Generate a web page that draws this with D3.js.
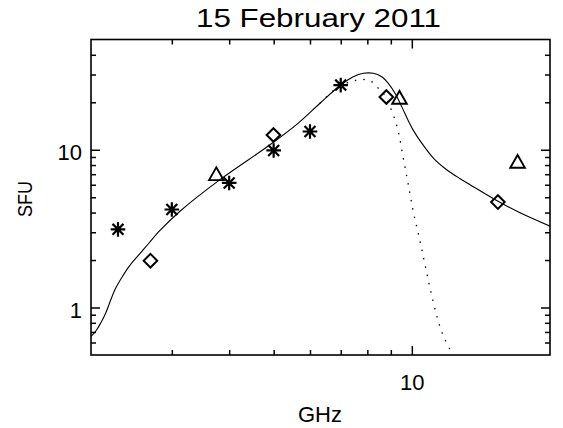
<!DOCTYPE html>
<html><head><meta charset="utf-8">
<script src="https://cdn.jsdelivr.net/npm/d3@7"></script>
<style>
body{margin:0;background:#fff}
svg{display:block}
text{font-family:"Liberation Sans",Arial,Helvetica,sans-serif;fill:#000}
</style>
</head><body><script>
// ---------- data ----------
const title = "15 February 2011";
const xLabel = "GHz";
const yLabel = "SFU";
const xDomain = [2, 20];
const yDomain = [0.5, 50];
const xMajorTicks = [10];
const xMinorTicks = [3, 4, 5, 6, 7, 8, 9];
const yMajorTicks = [1, 10];
const yMinorTicks = [0.6, 0.7, 0.8, 0.9, 2, 3, 4, 5, 6, 7, 8, 9, 20, 30, 40];

// observed fluxes
const asteriskFreq = [2.29, 3.0, 4.0, 5.0, 6.0, 7.0];
const asteriskFlux = [3.13, 4.18, 6.16, 9.9, 13.05, 25.7];
const diamondFreq = [2.695, 4.995, 8.8, 15.4];
const diamondFlux = [1.98, 12.4, 21.6, 4.66];
const triangleFreq = [3.75, 9.4, 17.0];
const triangleFlux = [7.05, 21.5, 8.44];

// fitted spectrum (solid)
const fitFreq = [2.000, 2.051, 2.103, 2.156, 2.211, 2.267, 2.345, 2.424, 2.548, 2.679, 2.817, 3.125, 3.820, 4.909, 5.658, 6.308, 6.998, 7.454, 7.840, 8.243, 8.598, 8.888, 9.192, 9.506, 9.825, 10.06, 10.51, 11.14, 11.91, 12.74, 13.39, 15.41, 17.21, 20.0];
const fitFlux = [0.656, 0.712, 0.804, 0.930, 1.128, 1.337, 1.584, 1.831, 2.171, 2.574, 3.047, 4.076, 6.465, 10.75, 14.75, 19.72, 25.74, 29.04, 30.52, 30.52, 29.04, 26.38, 22.81, 18.77, 15.25, 13.37, 11.02, 8.862, 7.475, 6.558, 6.009, 4.714, 3.982, 3.277];

// model component (dotted)
const modelFreq = [6.308, 6.998, 7.396, 7.711, 7.977, 8.243, 8.453, 8.670, 8.888, 9.112, 9.343, 9.580, 9.825, 10.07, 10.38, 10.68, 10.99, 11.36, 11.67, 12.15];
const modelFlux = [19.72, 25.74, 27.01, 27.97, 27.69, 26.61, 24.54, 22.81, 19.72, 16.64, 13.05, 8.862, 6.009, 4.076, 2.768, 1.877, 1.273, 0.865, 0.678, 0.532];

// ---------- layout ----------
const W = 563, H = 428;
const L = 91, R = 550, T = 39.5, B = 355;

const svg = d3.select("body").append("svg").attr("width", W).attr("height", H);

const x = d3.scaleLog().domain(xDomain).range([L, R]);
const y = d3.scaleLog().domain(yDomain).range([B, T]);

svg.append("defs").append("clipPath").attr("id", "clip")
  .append("rect").attr("x", L).attr("y", T).attr("width", R - L).attr("height", B - T);

// ---------- axes ----------
function addAxis(gen, scale, vals, size, tx, ty, labels) {
  const a = gen(scale).tickValues(vals).tickSizeInner(-size).tickSizeOuter(0)
    .tickPadding(12).tickFormat(labels ? d3.format("") : () => "");
  const g = svg.append("g").attr("transform", `translate(${tx},${ty})`).call(a);
  g.select(".domain").remove();
  g.selectAll(".tick line").attr("stroke", "#000").attr("stroke-width", 1.5);
  g.selectAll(".tick text").attr("font-size", 22).attr("fill", "#000")
    .attr("font-family", '"Liberation Sans",Arial,sans-serif');
  return g;
}
// bottom
addAxis(d3.axisBottom, x, xMinorTicks, 5, 0, B, false);
const gxb = addAxis(d3.axisBottom, x, xMajorTicks, 9, 0, B, true);
gxb.selectAll(".tick text").attr("dy", null).attr("y", 35);
// top
addAxis(d3.axisTop, x, xMinorTicks, 5, 0, T, false);
addAxis(d3.axisTop, x, xMajorTicks, 9, 0, T, false);
// left
addAxis(d3.axisLeft, y, yMinorTicks, 5, L, 0, false);
const gyl = addAxis(d3.axisLeft, y, yMajorTicks, 9, L, 0, true);
gyl.selectAll(".tick text").attr("dy", "0.45em").attr("x", -9);
// right
addAxis(d3.axisRight, y, yMinorTicks, 5, R, 0, false);
addAxis(d3.axisRight, y, yMajorTicks, 9, R, 0, false);

svg.append("rect").attr("x", L).attr("y", T).attr("width", R - L).attr("height", B - T)
  .attr("fill", "none").attr("stroke", "#000").attr("stroke-width", 1.6);

// ---------- curves ----------
const line = d3.line().x(d => x(d[0])).y(d => y(d[1])).curve(d3.curveCatmullRom.alpha(0.5));
const plot = svg.append("g").attr("clip-path", "url(#clip)");

plot.append("path").datum(d3.zip(modelFreq, modelFlux)).attr("d", line)
  .attr("fill", "none").attr("stroke", "#000").attr("stroke-width", 1.3)
  .attr("stroke-dasharray", "1.5,7");
plot.append("path").datum(d3.zip(fitFreq, fitFlux)).attr("d", line)
  .attr("fill", "none").attr("stroke", "#000").attr("stroke-width", 1.1);

// ---------- symbols ----------
function asteriskPath(s) {
  const p = d3.path();
  p.moveTo(0, -s); p.lineTo(0, s);
  p.moveTo(-s, 0); p.lineTo(s, 0);
  const d = s * 0.75;
  p.moveTo(-d, -d); p.lineTo(d, d);
  p.moveTo(-d, d); p.lineTo(d, -d);
  return p.toString();
}
function diamondPath(s) {
  const p = d3.path();
  p.moveTo(0, -s); p.lineTo(s, 0); p.lineTo(0, s); p.lineTo(-s, 0); p.closePath();
  return p.toString();
}
function trianglePath(w, h) {
  const p = d3.path();
  p.moveTo(-w, h); p.lineTo(0, -h); p.lineTo(w, h); p.closePath();
  return p.toString();
}

svg.append("g").selectAll("path").data(d3.zip(asteriskFreq, asteriskFlux)).join("path")
  .attr("transform", d => `translate(${x(d[0])},${y(d[1])})`)
  .attr("d", asteriskPath(7.3)).attr("fill", "none").attr("stroke", "#000").attr("stroke-width", 2.2);

svg.append("g").selectAll("path").data(d3.zip(diamondFreq, diamondFlux)).join("path")
  .attr("transform", d => `translate(${x(d[0])},${y(d[1])})`)
  .attr("d", diamondPath(6.8)).attr("fill", "none").attr("stroke", "#000").attr("stroke-width", 2);

svg.append("g").selectAll("path").data(d3.zip(triangleFreq, triangleFlux)).join("path")
  .attr("transform", d => `translate(${x(d[0])},${y(d[1])})`)
  .attr("d", trianglePath(7.3, 6.4)).attr("fill", "none").attr("stroke", "#000").attr("stroke-width", 1.9);

// ---------- titles ----------
svg.append("text").attr("x", 318.5).attr("y", 27).attr("text-anchor", "middle")
  .attr("font-size", 25).attr("textLength", 245).attr("lengthAdjust", "spacingAndGlyphs")
  .text(title);
svg.append("text").attr("x", 320).attr("y", 421.5).attr("text-anchor", "middle")
  .attr("font-size", 22).text(xLabel);
svg.append("text").attr("transform", "translate(31.5,199) rotate(-90)")
  .attr("text-anchor", "middle").attr("font-size", 21).attr("textLength", 36)
  .attr("lengthAdjust", "spacingAndGlyphs").text(yLabel);
</script></body></html>
